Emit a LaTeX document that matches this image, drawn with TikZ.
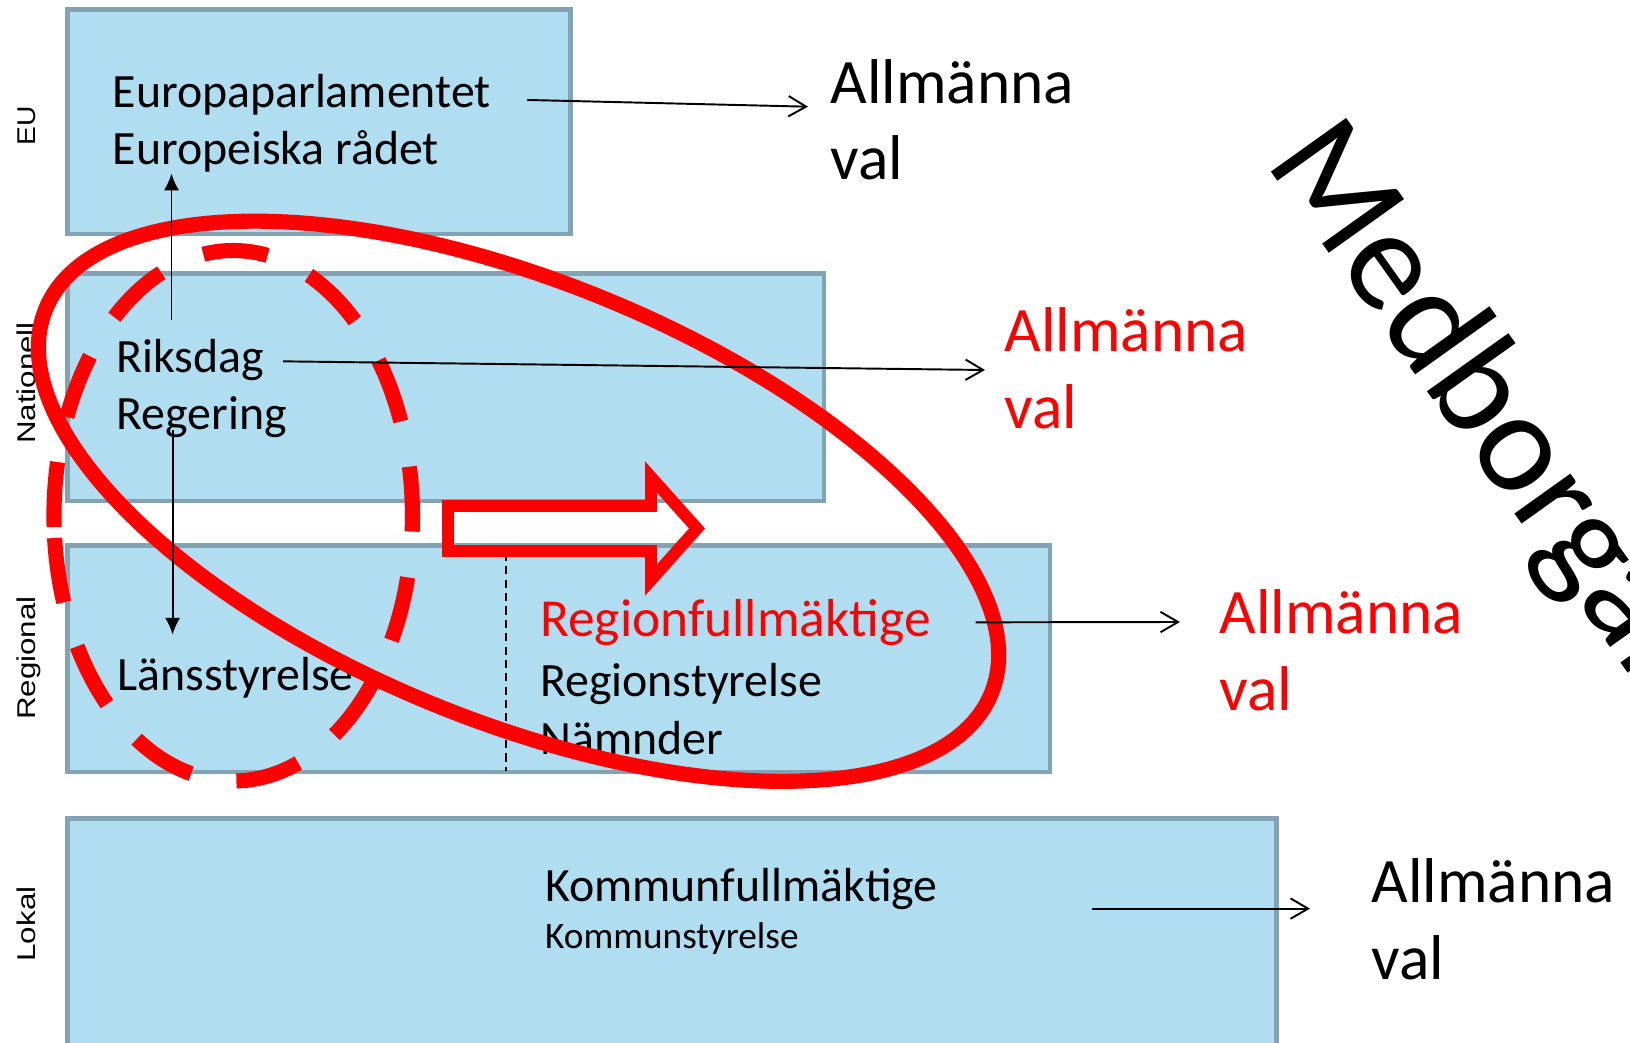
\documentclass[tikz,border=0pt]{standalone}
\usepackage{fontspec}
\setmainfont{Carlito}
\newfontfamily\sidefont{Liberation Sans}
\usetikzlibrary{arrows.meta}
\definecolor{boxfill}{RGB}{177,221,240}
\definecolor{boxline}{RGB}{131,163,180}
\definecolor{ringred}{RGB}{255,0,0}

\begin{document}
\begin{tikzpicture}[x=0.01cm, y=-0.01cm,
    tier/.style={draw=boxline, fill=boxfill, line width=1.3pt},
    boxtext/.style={anchor=base west, inner sep=0pt, font=\fontsize{13.6}{16}\selectfont},
    subtext/.style={anchor=base west, inner sep=0pt, font=\fontsize{10.6}{12}\selectfont},
    valtext/.style={anchor=base west, inner sep=0pt, align=left, font=\fontsize{18}{21.8}\selectfont},
    sidelabel/.style={rotate=90, anchor=base, inner sep=0pt, font=\sidefont\fontsize{7.3}{9}\selectfont},
    valarrow/.style={-{Straight Barb[length=5pt,width=5.8pt]}, line width=0.55pt},
    govarrow/.style={-{Latex[length=4.8pt,width=4.3pt]}, line width=0.55pt},
    redring/.style={draw=ringred, line width=4.3pt}]

      \useasboundingbox (0,0) rectangle (1630,1043);
      \clip (0,0) rectangle (1630,1043);

      % levels
      \draw[tier] (67.5,9.5) rectangle (570.5,234);
      \draw[tier] (67.5,273.5) rectangle (824,501);
      \draw[tier] (67.5,545.5) rectangle (1050,772);
      \draw[tier] (67.5,818.5) rectangle (1276.5,1060);

      \begin{scope}[every node/.style={sidelabel}]
        \node (eu)  at (35,126) {\scalebox{1.1}[1]{EU}};
        \node (nat) at (35,383) {\scalebox{1.22}[1]{Nationell}};
        \node (rgn) at (35,658) {\scalebox{1.22}[1]{Regional}};
        \node (lok) at (35,924) {\scalebox{1.22}[1]{Lokal}};
      \end{scope}

      \begin{scope}[every node/.style={boxtext}]
        \node (eup)   at (112,107.3) {Europaparlamentet};
        \node (eurad) at (112,165)   {Europeiska rådet};
        \node (riks)  at (116,372.7) {Riksdag};
        \node (reg)   at (116,430)   {Regering};
        \node (lans)  at (117,690)   {Länsstyrelse};
        \node[text=ringred, font=\fontsize{15.2}{18}\selectfont] (rfm) at (539.5,636.7) {Regionfullmäktige};
        \node (rst)   at (539.5,696.5) {Regionstyrelse};
        \node (nmd)   at (539.5,754)   {Nämnder};
        \node (kfm)   at (544.5,901.4) {Kommunfullmäktige};
      \end{scope}
      \node[subtext] (kst) at (544.5,948.8) {Kommunstyrelse};

      % anchored at the baseline of the last line
      \begin{scope}[every node/.style={valtext}]
        \node (valeu)  at (830,180) {Allmänna\\val};
        \node[text=ringred] (valnat) at (1004,428.3) {Allmänna\\val};
        \node[text=ringred] (valreg) at (1219,710) {Allmänna\\val};
        \node (vallok) at (1371,979.3) {Allmänna\\val};
      \end{scope}

      \node[rotate=-54.5, anchor=base west, inner sep=0pt,
        font=\fontsize{41}{44}\selectfont] (medb) at (1264,162) {Medborgare};

      \draw[dash pattern=on 2.3pt off 1.5pt, line width=0.45pt] (506,553) -- (506,771);

      % red marks
      \draw[draw=ringred, line width=3.4pt, miter limit=10]
        (448,506) -- (651,506) -- (651,477) -- (697,528.5) -- (651,580)
        -- (651,551) -- (448,551) -- cycle;
      \draw[redring, rotate around={-22.1:(518.5,501.25)}]
        (518.5,501.25) ellipse [x radius=510.4, y radius=220.1];
      \draw[redring, dash pattern=on 18.5pt off 13.1pt]
        (54.6,538) arc[start angle=175.19, end angle=-184.81, x radius=179.25, y radius=265.25];

      \coordinate (eutip)   at (808,106.7);
      \coordinate (nattip)  at (985,370);
      \coordinate (regtip)  at (1180,622);
      \coordinate (loktip)  at (1310,908.6);
      \coordinate (upfoot)  at (171.5,320);
      \coordinate (downtip) at (172.6,634.7);

      \begin{scope}[every edge/.style={draw, valarrow}]
        \path (eup) edge[shorten <=10.2pt] (eutip);
        \path (riks) edge[shorten <=5.2pt] (nattip);
        \path (rfm) edge[shorten <=12.6pt] (regtip);
        \path (kfm.east |- loktip) edge[shorten <=43.7pt] (loktip);
      \end{scope}

      \draw[govarrow] (upfoot) -- (upfoot |- eurad.south);
      \draw[govarrow] (downtip |- reg.base) -- (downtip);

    \end{tikzpicture}
\end{document}
